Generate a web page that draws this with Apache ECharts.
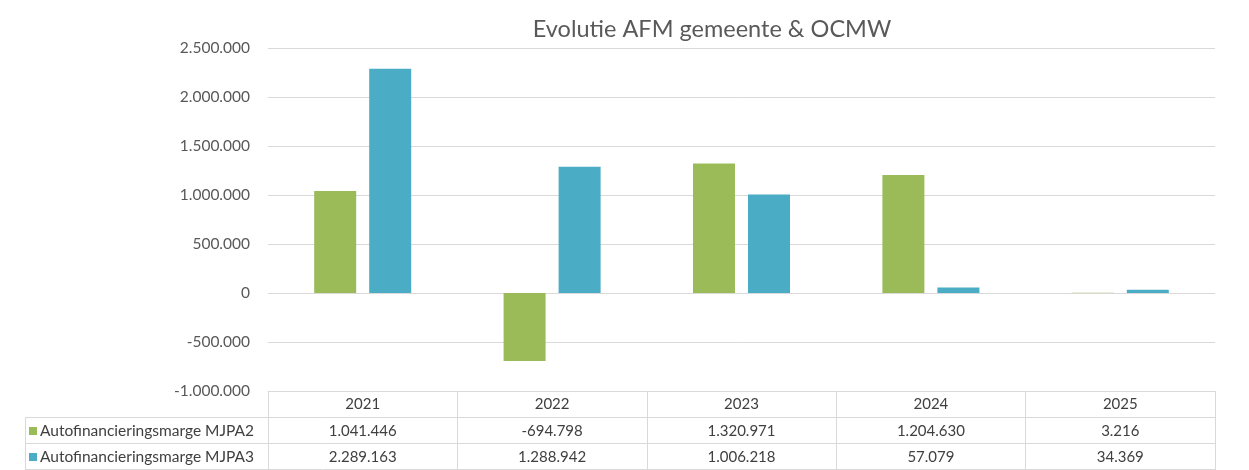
<!DOCTYPE html>
<html>
<head>
<meta charset="utf-8">
<script src="https://cdn.jsdelivr.net/npm/echarts@6/dist/echarts.min.js"></script>
<style>
  html, body { margin: 0; padding: 0; background: #fff; }
  #chart { width: 1249px; height: 470px; }
</style>
</head>
<body>
<div id="chart"></div>
<script>
const years = ['2021', '2022', '2023', '2024', '2025'];
const mjpa2 = [1041446, -694798, 1320971, 1204630, 3216];
const mjpa3 = [2289163, 1288942, 1006218, 57079, 34369];
const seriesNames = ['Autofinancieringsmarge MJPA2', 'Autofinancieringsmarge MJPA3'];

const FONT = 'Lato, "Open Sans", sans-serif';
const gridColor = '#d9d9d9';
const textColor = '#404040';

function fmt(v) {
  const s = Math.abs(v).toString().replace(/\B(?=(\d{3})+(?!\d))/g, '.');
  return (v < 0 ? '-' : '') + s;
}

function legendFor(name, top) {
  return {
    left: 29,
    top: top,
    itemWidth: 8,
    itemHeight: 8,
    itemGap: 0,
    icon: 'rect',
    selectedMode: false,
    padding: 0,
    textStyle: { fontFamily: FONT, fontSize: 15.5, color: textColor, padding: [0, 0, 0, -2] },
    data: [name]
  };
}

const myChart = echarts.init(document.getElementById('chart'));

const option = {
  animation: false,
  color: ['#9bbb59', '#4bacc6'],
  title: {
    text: 'Evolutie AFM gemeente & OCMW',
    left: 707,
    top: 12,
    textAlign: 'center',
    textStyle: { fontFamily: FONT, fontSize: 23.5, fontWeight: 'normal', color: '#595959' }
  },
  legend: [legendFor(seriesNames[0], 423), legendFor(seriesNames[1], 449)],
  grid: { left: 268, right: 34, top: 48, bottom: 79 },
  xAxis: {
    type: 'category',
    data: years,
    axisLine: { show: true, onZero: false, lineStyle: { color: gridColor } },
    axisTick: { show: true, length: 79, lineStyle: { color: gridColor } },
    axisLabel: {
      margin: 0,
      interval: 0,
      formatter: function (val, idx) {
        return '{y|' + val + '}\n{v|' + fmt(mjpa2[idx]) + '}\n{v|' + fmt(mjpa3[idx]) + '}';
      },
      rich: {
        y: { fontFamily: FONT, fontSize: 15, color: textColor, lineHeight: 26.5 },
        v: { fontFamily: FONT, fontSize: 15, color: textColor, lineHeight: 26.5 }
      }
    }
  },
  yAxis: {
    type: 'value',
    min: -1000000,
    max: 2500000,
    interval: 500000,
    axisLine: { show: false },
    axisTick: { show: false },
    splitLine: { lineStyle: { color: gridColor } },
    axisLabel: {
      margin: 18,
      fontFamily: FONT,
      fontSize: 15.5,
      color: '#595959',
      formatter: fmt
    }
  },
  graphic: [
    // data table row borders
    { type: 'line', shape: { x1: 25, y1: 417.5, x2: 1215, y2: 417.5 }, style: { stroke: gridColor, lineWidth: 1 } },
    { type: 'line', shape: { x1: 25, y1: 443.5, x2: 1215, y2: 443.5 }, style: { stroke: gridColor, lineWidth: 1 } },
    { type: 'line', shape: { x1: 25, y1: 469.5, x2: 1215, y2: 469.5 }, style: { stroke: gridColor, lineWidth: 1 } },
    { type: 'line', shape: { x1: 25.5, y1: 417.5, x2: 25.5, y2: 470 }, style: { stroke: gridColor, lineWidth: 1 } }
  ],
  series: [
    {
      name: seriesNames[0],
      type: 'bar',
      data: mjpa2,
      barWidth: 42,
      barGap: '31%'
    },
    {
      name: seriesNames[1],
      type: 'bar',
      data: mjpa3,
      barWidth: 42,
      barGap: '31%'
    }
  ]
};

myChart.setOption(option);
window.onresize = function () {
  myChart.resize();
};
</script>
</body>
</html>
